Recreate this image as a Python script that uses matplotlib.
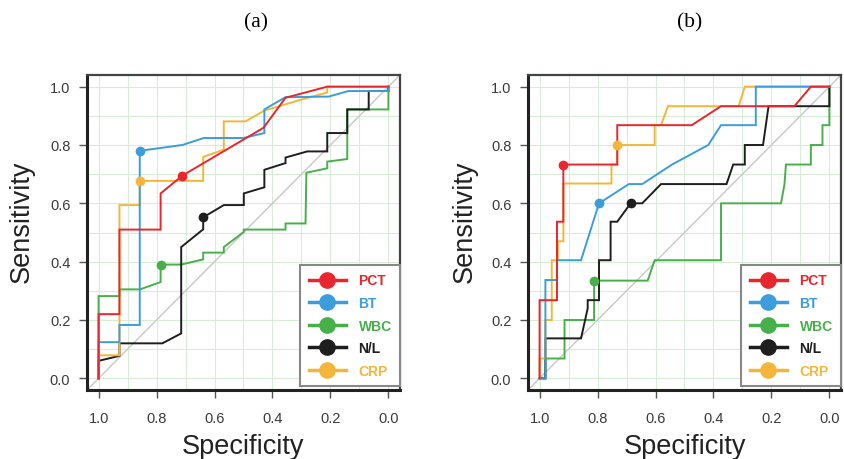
import matplotlib
matplotlib.use("Agg")
import matplotlib.pyplot as plt
from matplotlib.lines import Line2D
import numpy as np

plt.rcParams['font.family'] = ['Liberation Sans', 'DejaVu Sans']

names = ["PCT", "BT", "WBC", "N/L", "CRP"]
colors = {"PCT": "#e8262e", "BT": "#3b9ddb", "WBC": "#47b04b", "N/L": "#1e1e1e", "CRP": "#f4b63a"}

# ---------------- Panel (a) ----------------
a_pct_spec = [1.0, 1.0, 0.928, 0.928, 0.786, 0.786, 0.711, 0.431, 0.355, 0.211, 0.0]
a_pct_sens = [0.0, 0.22, 0.22, 0.51, 0.51, 0.634, 0.695, 0.859, 0.962, 1.0, 1.0]

a_bt_spec = [1.0, 1.0, 0.928, 0.928, 0.858, 0.858, 0.711, 0.637, 0.50, 0.428, 0.428, 0.355, 0.206, 0.138, 0.0, 0.0]
a_bt_sens = [0.0, 0.124, 0.124, 0.183, 0.183, 0.78, 0.80, 0.824, 0.824, 0.841, 0.922, 0.964, 0.966, 0.985, 0.985, 1.0]

a_wbc_spec = [1.0, 1.0, 0.928, 0.928, 0.857, 0.786, 0.786, 0.715, 0.639, 0.639, 0.568, 0.568, 0.499, 0.499,
              0.355, 0.355, 0.286, 0.283, 0.211, 0.211, 0.142, 0.142, 0.0, 0.0]
a_wbc_sens = [0.0, 0.282, 0.282, 0.305, 0.305, 0.33, 0.39, 0.39, 0.408, 0.431, 0.431, 0.45, 0.502, 0.51,
              0.51, 0.531, 0.531, 0.705, 0.72, 0.743, 0.752, 0.922, 0.922, 1.0]

a_nl_spec = [1.0, 1.0, 0.928, 0.928, 0.78, 0.715, 0.715, 0.639, 0.639, 0.568, 0.499, 0.499, 0.428, 0.428,
             0.355, 0.355, 0.28, 0.211, 0.211, 0.142, 0.142, 0.068, 0.068, 0.0, 0.0]
a_nl_sens = [0.0, 0.06, 0.077, 0.12, 0.12, 0.154, 0.45, 0.511, 0.552, 0.594, 0.594, 0.634, 0.655, 0.715,
             0.738, 0.757, 0.778, 0.778, 0.841, 0.841, 0.922, 0.922, 0.985, 0.985, 1.0]

a_crp_spec = [1.0, 1.0, 0.928, 0.928, 0.858, 0.858, 0.639, 0.639, 0.568, 0.568, 0.493, 0.428, 0.303, 0.211, 0.211, 0.0]
a_crp_sens = [0.0, 0.079, 0.079, 0.594, 0.594, 0.677, 0.677, 0.759, 0.784, 0.881, 0.881, 0.918, 0.955, 0.98, 1.0, 1.0]

a_best_spec = {"PCT": 0.711, "BT": 0.858, "WBC": 0.786, "N/L": 0.639, "CRP": 0.858}
a_best_sens = {"PCT": 0.695, "BT": 0.78, "WBC": 0.39, "N/L": 0.552, "CRP": 0.677}

# ---------------- Panel (b) ----------------
b_pct_spec = [1.0, 1.0, 0.94, 0.94, 0.918, 0.918, 0.732, 0.732, 0.475, 0.374, 0.121, 0.064, 0.0]
b_pct_sens = [0.0, 0.268, 0.268, 0.537, 0.537, 0.733, 0.733, 0.868, 0.868, 0.933, 0.933, 1.0, 1.0]

b_bt_spec = [1.0, 0.98, 0.98, 0.94, 0.94, 0.857, 0.795, 0.692, 0.646, 0.543, 0.418, 0.374, 0.254, 0.254, 0.0]
b_bt_sens = [0.0, 0.0, 0.337, 0.337, 0.405, 0.405, 0.60, 0.666, 0.666, 0.733, 0.80, 0.868, 0.868, 1.0, 1.0]

b_wbc_spec = [1.0, 0.98, 0.98, 0.914, 0.914, 0.812, 0.812, 0.627, 0.603, 0.374, 0.374, 0.167, 0.155, 0.15,
              0.064, 0.064, 0.024, 0.024, 0.0, 0.0]
b_wbc_sens = [0.0, 0.0, 0.068, 0.068, 0.2, 0.2, 0.335, 0.335, 0.405, 0.405, 0.60, 0.60, 0.666, 0.733,
              0.733, 0.80, 0.80, 0.868, 0.868, 1.0]

b_nl_spec = [1.0, 0.98, 0.98, 0.857, 0.834, 0.834, 0.795, 0.795, 0.755, 0.755, 0.732, 0.686, 0.646, 0.581,
             0.355, 0.332, 0.292, 0.292, 0.229, 0.21, 0.0, 0.0]
b_nl_sens = [0.0, 0.0, 0.137, 0.137, 0.24, 0.268, 0.268, 0.405, 0.405, 0.537, 0.537, 0.60, 0.60, 0.666,
             0.666, 0.733, 0.733, 0.80, 0.80, 0.933, 0.933, 1.0]

b_crp_spec = [1.0, 1.0, 0.98, 0.98, 0.958, 0.958, 0.937, 0.937, 0.918, 0.918, 0.752, 0.752, 0.732, 0.732,
              0.603, 0.603, 0.581, 0.557, 0.313, 0.292, 0.0]
b_crp_sens = [0.0, 0.068, 0.068, 0.2, 0.2, 0.405, 0.405, 0.47, 0.47, 0.668, 0.668, 0.733, 0.733, 0.80,
              0.80, 0.868, 0.868, 0.933, 0.933, 1.0, 1.0]

b_best_spec = {"PCT": 0.918, "BT": 0.795, "WBC": 0.812, "N/L": 0.686, "CRP": 0.732}
b_best_sens = {"PCT": 0.733, "BT": 0.60, "WBC": 0.335, "N/L": 0.60, "CRP": 0.80}

ticks = [1.0, 0.8, 0.6, 0.4, 0.2, 0.0]
tick_labels = ["1.0", "0.8", "0.6", "0.4", "0.2", "0.0"]
minor = np.arange(0.0, 1.01, 0.1)

panels = [
    {
        "curves": {"PCT": (a_pct_spec, a_pct_sens), "BT": (a_bt_spec, a_bt_sens), "WBC": (a_wbc_spec, a_wbc_sens),
                   "N/L": (a_nl_spec, a_nl_sens), "CRP": (a_crp_spec, a_crp_sens)},
        "best": (a_best_spec, a_best_sens),
        "rect": [87 / 845, 69 / 460, 313 / 845, 315 / 460],
        "title": "(a)", "title_x": 256 / 845, "ylab_x": 22 / 845, "xlab_x": 243 / 845,
    },
    {
        "curves": {"PCT": (b_pct_spec, b_pct_sens), "BT": (b_bt_spec, b_bt_sens), "WBC": (b_wbc_spec, b_wbc_sens),
                   "N/L": (b_nl_spec, b_nl_sens), "CRP": (b_crp_spec, b_crp_sens)},
        "best": (b_best_spec, b_best_sens),
        "rect": [528 / 845, 69 / 460, 313 / 845, 315 / 460],
        "title": "(b)", "title_x": 690 / 845, "ylab_x": 465 / 845, "xlab_x": 685 / 845,
    },
]

fig = plt.figure(figsize=(8.45, 4.6), dpi=100)
draw_order = ["WBC", "N/L", "CRP", "BT", "PCT"]

for p in panels:
    ax = fig.add_axes(p["rect"])
    ax.set_xlim(1.04, -0.04)
    ax.set_ylim(-0.04, 1.04)
    for v in minor:
        ax.axvline(v, color="#d8ecd8", lw=0.8, zorder=0)
        ax.axhline(v, color="#d8ecd8", lw=0.8, zorder=0)
    ax.axline((1, 0), (0, 1), color="#c8c8c8", lw=1.0, zorder=1)
    for n in draw_order:
        sx, sy = p["curves"][n]
        ax.plot(sx, sy, color=colors[n], lw=1.4, zorder=3, solid_joinstyle="miter")
        bs, be = p["best"]
        ax.plot([bs[n]], [be[n]], "o", color=colors[n], ms=6, zorder=4)
    ax.set_xticks(ticks)
    ax.set_xticklabels(tick_labels)
    ax.set_yticks(ticks)
    ax.set_yticklabels(tick_labels)
    ax.tick_params(axis="both", direction="out", length=6, width=1.0, color="#555555",
                   labelsize=10.5, labelcolor="#3a3a3a")
    ax.tick_params(axis="x", pad=9)
    ax.tick_params(axis="y", pad=6)
    for side in ["left", "bottom"]:
        ax.spines[side].set_linewidth(2.2)
        ax.spines[side].set_color("#222222")
    for side in ["top", "right"]:
        ax.spines[side].set_linewidth(1.6)
        ax.spines[side].set_color("#444444")
    handles = [Line2D([0], [0], color=colors[n], lw=2.5, marker="o", ms=11) for n in names]
    leg = ax.legend(handles, names, loc="lower right", bbox_to_anchor=(1.0, 0.012), borderaxespad=0,
                    handlelength=2.7, handletextpad=0.9, labelspacing=0.62, borderpad=0.6,
                    prop={"weight": "bold", "size": 10}, fancybox=False, framealpha=1.0)
    leg.get_frame().set_edgecolor("#888888")
    leg.get_frame().set_linewidth(1.5)
    for t, n in zip(leg.get_texts(), names):
        t.set_color(colors[n])
    leg.set_zorder(5)

    fig.text(p["title_x"], 1 - 23 / 460, p["title"], ha="center", va="center",
             fontsize=15.5, family="Liberation Serif")
    fig.text(p["ylab_x"], 1 - 222 / 460, "Sensitivity", rotation=90, ha="center", va="center",
             fontsize=19.5, color="#222222")
    fig.text(p["xlab_x"], 1 - 447 / 460, "Specificity", ha="center", va="center",
             fontsize=19.5, color="#222222")

fig.savefig("out.png", dpi=100)
